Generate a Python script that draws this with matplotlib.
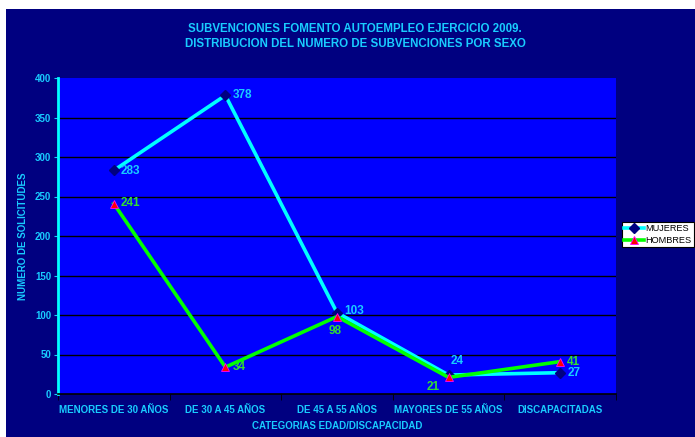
import matplotlib
matplotlib.use('Agg')
from matplotlib import pyplot
from matplotlib.patches import Rectangle

categorias = ["MENORES DE 30 AÑOS", "DE 30 A 45 AÑOS", "DE 45 A 55 AÑOS",
              "MAYORES DE 55 AÑOS", "DISCAPACITADAS"]
mujeres = [283, 378, 103, 24, 27]
hombres = [241, 34, 98, 21, 41]
yticks = [0, 50, 100, 150, 200, 250, 300, 350, 400]

NAVY = '#000080'
TXT = '#19CCFF'
pyplot.rcParams['font.family'] = ['Liberation Sans Narrow', 'Liberation Sans', 'DejaVu Sans']
pyplot.rcParams['font.weight'] = 'bold'

fig = pyplot.figure(figsize=(6.95, 4.37), dpi=100)
fig.patch.set_facecolor('white')
fig.patches.append(Rectangle((6 / 695, 0), 1, 1 - 9 / 437, transform=fig.transFigure,
                             facecolor=NAVY, edgecolor='none', zorder=-10))

ax = fig.add_axes([58 / 695, 1 - 394 / 437, 558 / 695, 316 / 437])
ax.set_facecolor('#0000FF')
x = list(range(len(categorias)))

ax.plot(x, mujeres, color='#00FFFF', lw=2.6, marker='D', ms=5.5,
        mfc=NAVY, mec=NAVY, label='MUJERES', zorder=3)
ax.plot(x, hombres, color='#00FF00', lw=2.6, marker='^', ms=5.5,
        mfc='#FF0000', mec='#FF00FF', mew=0.6, label='HOMBRES', zorder=4)

ax.set_xlim(-0.5, len(categorias) - 0.5)
ax.set_ylim(0, 400)
ax.set_yticks(yticks)
for t in yticks[1:-1]:
    ax.axhline(t, color='black', lw=1.0, zorder=1)

# etiquetas de datos (desplazamiento en pixeles)
off_m = [(7, -1, 'left'), (7, 0, 'left'), (7, 2, 'left'), (9, 14, 'center'), (7, 0, 'left')]
off_h = [(7, 1, 'left'), (7, 0, 'left'), (-2, -14, 'center'), (-15, -10, 'center'), (7, 0, 'left')]
for i in x:
    dx, dy, ha = off_m[i]
    ax.annotate(str(mujeres[i]), (i, mujeres[i]), xytext=(dx, dy),
                textcoords='offset pixels', color=TXT, fontsize=8.5,
                fontweight='bold', va='center', ha=ha)
    dx, dy, ha = off_h[i]
    ax.annotate(str(hombres[i]), (i, hombres[i]), xytext=(dx, dy),
                textcoords='offset pixels', color='#33DD33', fontsize=8.5,
                fontweight='bold', va='center', ha=ha)

ax.set_xticks(x)
ax.set_xticklabels(categorias)
ax.set_xticks([i - 0.5 for i in range(len(categorias) + 1)], minor=True)
ax.tick_params(axis='x', which='major', length=0, pad=8, labelsize=7,
               labelcolor=TXT)
ax.tick_params(axis='x', which='minor', length=4, color='black', direction='out')
ax.tick_params(axis='y', length=3, color=TXT, labelsize=7, labelcolor=TXT, pad=2)

for s in ['top', 'right']:
    ax.spines[s].set_visible(False)
ax.spines['left'].set_color('#00FFFF')
ax.spines['left'].set_linewidth(2)
ax.spines['bottom'].set_color('black')
ax.spines['bottom'].set_linewidth(1.2)

ax.set_xlabel('CATEGORIAS EDAD/DISCAPACIDAD', color=TXT, fontsize=7,
              fontweight='bold', labelpad=4)
ax.set_ylabel('NUMERO DE SOLICITUDES', color=TXT, fontsize=7,
              fontweight='bold', labelpad=5)

fig.text(355 / 695, 1 - 29 / 437, 'SUBVENCIONES FOMENTO AUTOEMPLEO EJERCICIO 2009.',
         ha='center', va='center', color=TXT, fontsize=8.3, fontweight='bold')
fig.text(355 / 695, 1 - 44 / 437, 'DISTRIBUCION DEL NUMERO DE SUBVENCIONES POR SEXO',
         ha='center', va='center', color=TXT, fontsize=8.3, fontweight='bold')

leg = ax.legend(loc='upper left', bbox_to_anchor=(622 / 695, 1 - 222 / 437),
                bbox_transform=fig.transFigure, fontsize=6.6, frameon=True,
                fancybox=False, edgecolor='black', facecolor='white', framealpha=1,
                handlelength=2.2, handletextpad=0.1, borderpad=0.25,
                labelspacing=0.3, borderaxespad=0)
leg.get_frame().set_linewidth(0.8)
for t in leg.get_texts():
    t.set_color('black')
    t.set_fontweight('normal')

fig.savefig('out.png', dpi=100, facecolor=fig.get_facecolor())
